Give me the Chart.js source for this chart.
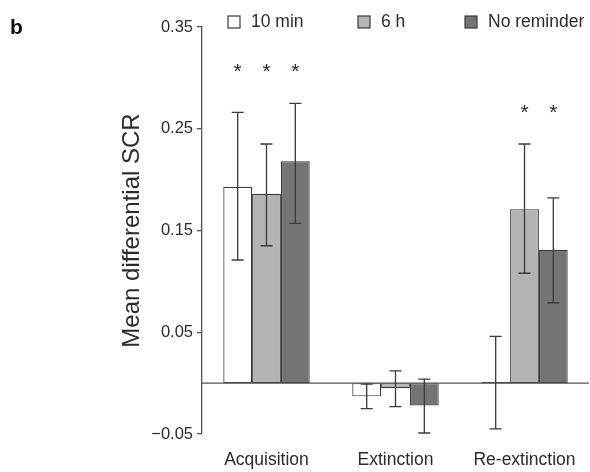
<!DOCTYPE html>
<html>
<head>
<meta charset="utf-8">
<script src="https://cdn.jsdelivr.net/npm/chart.js@4/dist/chart.umd.min.js"></script>
<style>
  body { margin: 0; background: #fff; }
  #wrap { width: 590px; height: 472px; }
</style>
</head>
<body>
<div id="wrap"><canvas id="scrChart" width="590" height="472"></canvas></div>
<script>
const categories = ["Acquisition", "Extinction", "Re-extinction"];

const tenMin = [0.193, -0.013, 0.001];
const sixH = [0.186, -0.005, 0.171];
const noReminder = [0.218, -0.022, 0.131];

// error bar ends (lower / upper)
const tenMinLow = [0.121, -0.025, -0.045];
const tenMinHigh = [0.266, -0.001, 0.046];
const sixHLow = [0.135, -0.023, 0.108];
const sixHHigh = [0.235, 0.012, 0.235];
const noReminderLow = [0.157, -0.049, 0.079];
const noReminderHigh = [0.275, 0.004, 0.182];

// asterisks
const tenMinSig = [true, false, false];
const sixHSig = [true, false, true];
const noReminderSig = [true, false, true];

const yTicks = [-0.05, 0.05, 0.15, 0.25, 0.35];

const lows = [tenMinLow, sixHLow, noReminderLow];
const highs = [tenMinHigh, sixHHigh, noReminderHigh];
const sigs = [tenMinSig, sixHSig, noReminderSig];

const ink = "#3a3a3a";
const textColor = "#2b2b2b";
const fontFamily = "'Liberation Sans', Arial, Helvetica, sans-serif";

const extras = {
  id: "extras",
  afterDatasetsDraw(chart) {
    const ctx = chart.ctx;
    const y = chart.scales.y;
    const area = chart.chartArea;
    ctx.save();

    // zero line
    ctx.strokeStyle = "#555";
    ctx.lineWidth = 1.4;
    ctx.beginPath();
    ctx.moveTo(area.left, y.getPixelForValue(0));
    ctx.lineTo(area.right, y.getPixelForValue(0));
    ctx.stroke();

    // error bars
    ctx.strokeStyle = ink;
    ctx.lineWidth = 1.3;
    chart.data.datasets.forEach((ds, i) => {
      const meta = chart.getDatasetMeta(i);
      meta.data.forEach((bar, j) => {
        const top = y.getPixelForValue(highs[i][j]);
        const bot = y.getPixelForValue(lows[i][j]);
        ctx.beginPath();
        ctx.moveTo(bar.x, top);
        ctx.lineTo(bar.x, bot);
        ctx.moveTo(bar.x - 6, top);
        ctx.lineTo(bar.x + 6, top);
        ctx.moveTo(bar.x - 6, bot);
        ctx.lineTo(bar.x + 6, bot);
        ctx.stroke();
      });
    });

    // asterisks
    ctx.fillStyle = textColor;
    ctx.font = "21px " + fontFamily;
    ctx.textAlign = "center";
    ctx.textBaseline = "middle";
    categories.forEach((c, j) => {
      let level = Infinity;
      highs.forEach(h => { level = Math.min(level, y.getPixelForValue(h[j])); });
      chart.data.datasets.forEach((ds, i) => {
        if (!sigs[i][j]) return;
        const bar = chart.getDatasetMeta(i).data[j];
        ctx.fillText("*", bar.x, level - 31);
      });
    });

    // legend
    ctx.font = "17.5px " + fontFamily;
    ctx.textAlign = "left";
    const legendX = [228, 358, 465];
    chart.data.datasets.forEach((ds, i) => {
      ctx.fillStyle = ds.backgroundColor;
      ctx.fillRect(legendX[i], 16, 12, 12);
      ctx.strokeStyle = ink;
      ctx.lineWidth = 1.2;
      ctx.strokeRect(legendX[i], 16, 12, 12);
      ctx.fillStyle = textColor;
      ctx.fillText(ds.label, legendX[i] + 23, 22);
    });

    // panel letter
    ctx.font = "bold 21px " + fontFamily;
    ctx.fillStyle = "#111";
    ctx.fillText("b", 10, 28);
    ctx.restore();
  }
};

new Chart(document.getElementById("scrChart"), {
  type: "bar",
  data: {
    labels: categories,
    datasets: [
      { label: "10 min", data: tenMin, backgroundColor: "#ffffff" },
      { label: "6 h", data: sixH, backgroundColor: "#b4b4b4" },
      { label: "No reminder", data: noReminder, backgroundColor: "#747474" },
    ].map(d => Object.assign(d, {
      borderColor: ink,
      borderWidth: 1.2,
      borderSkipped: false,
      categoryPercentage: 0.67,
      barPercentage: 1.0,
    })),
  },
  plugins: [extras],
  options: {
    responsive: false,
    animation: false,
    layout: { padding: { left: 110, top: 27, right: 1, bottom: 0 } },
    plugins: { legend: { display: false }, tooltip: { enabled: false } },
    scales: {
      x: {
        grid: { display: false },
        border: { display: false },
        ticks: { color: textColor, font: { family: fontFamily, size: 17.5 }, padding: 8 },
        afterFit: (s) => { s.height = 38; },
      },
      y: {
        min: -0.05,
        max: 0.35,
        afterBuildTicks: (s) => { s.ticks = yTicks.map(v => ({ value: v })); },
        grid: { display: true, drawOnChartArea: false, drawTicks: true, tickLength: 5, color: "#555", lineWidth: 1.3 },
        border: { display: true, color: "#555", width: 1.3 },
        ticks: {
          color: textColor,
          font: { family: fontFamily, size: 16.5 },
          padding: 4,
          callback: (v) => (v < 0 ? "\u2212" + Math.abs(v).toFixed(2) : v.toFixed(2)),
        },
        title: {
          display: true,
          text: "Mean differential SCR",
          color: textColor,
          font: { family: fontFamily, size: 24 },
          padding: { top: 8, bottom: 0 },
        },
        afterFit: (s) => { s.width = 92; },
      },
    },
  },
});
</script>
</body>
</html>
